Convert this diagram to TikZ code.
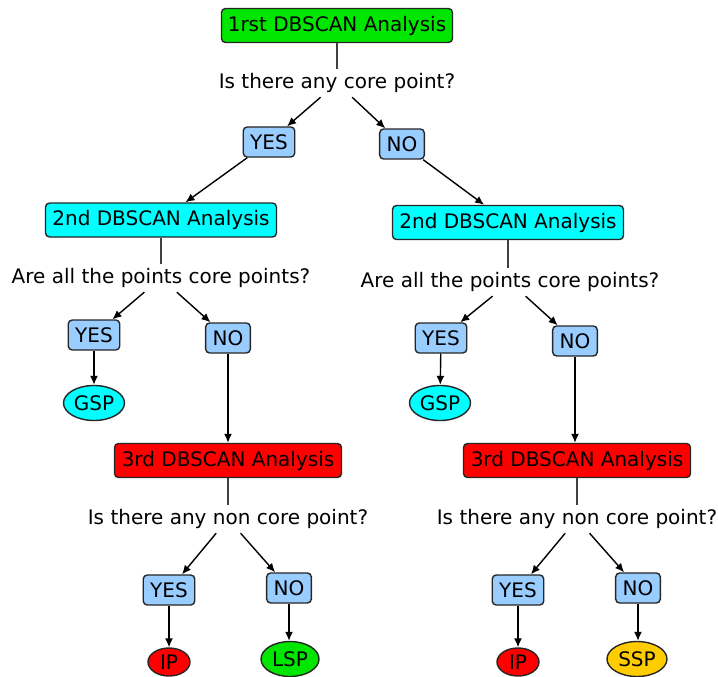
\documentclass[tikz,border=0pt]{standalone}
\usepackage{fontspec}
\setmainfont{DejaVu Sans}
\usetikzlibrary{arrows.meta,shapes.geometric,positioning}
\usepackage{xcolor}
\definecolor{firstgreen}{RGB}{0,230,0}
\definecolor{secondcyan}{RGB}{0,255,255}
\definecolor{thirdred}{RGB}{255,0,0}
\definecolor{ansblue}{RGB}{153,204,255}
\definecolor{ssporange}{RGB}{255,204,0}

\begin{document}
\begin{tikzpicture}[x=1pt,y=-1pt,
    font=\fontsize{20}{23}\selectfont,
    box/.style={draw=black!85,line width=1.4pt,rounded corners=4pt,minimum height=34pt,minimum width=231pt},
    ans/.style={draw=black!85,line width=1.4pt,rounded corners=4pt,fill=ansblue,minimum height=30pt,inner xsep=7pt},
    ques/.style={inner sep=0pt,minimum height=28pt},
    leaf/.style={ellipse,draw=black!85,line width=1.4pt,inner sep=0pt,minimum height=35pt,minimum width=61pt},
    link/.style={line width=1.1pt,black!75},
    arr/.style={line width=1.4pt,-{Latex[length=9pt,width=8pt]}}]
    \useasboundingbox (0,0) rectangle (718,677);

    % first analysis
    \node[box,fill=firstgreen] (first) at (337,25.5) {1rst DBSCAN Analysis};
    \node[ques] (q1) at (337,83) {Is there any core point?};
    \node[ans] (yes1) at (269,142) {YES};
    \node[ans] (no1) at (402,144) {NO};
    \draw[link] (first.south) -- (first.south |- q1.north);
    \draw[arr] (q1) -- (yes1);
    \draw[arr] (q1) -- (no1);

    % left branch
    \node[box,fill=secondcyan] (secL) at (161,220) {2nd DBSCAN Analysis};
    \node[ques] (q2L) at (161,278) {Are all the points core points?};
    \node[ans] (yes2L) at (94,335) {YES};
    \node[ans] (no2L) at (228,338) {NO};
    \node[leaf,fill=secondcyan] (gspL) at (94,403) {GSP};
    \draw[arr] (yes1) -- (secL);
    \draw[link] (secL.south) -- (secL.south |- q2L.north);
    \draw[arr] (q2L) -- (yes2L);
    \draw[arr] (q2L) -- (no2L);
    \draw[arr] (yes2L) -- (gspL);

    \node[box,fill=thirdred,minimum width=227pt] (thirdL) at (228,460.5) {3rd DBSCAN Analysis};
    \node[ques] (q3L) at (228,519) {Is there any non core point?};
    \node[ans] (yes3L) at (169,590) {YES};
    \node[ans] (no3L) at (289,588) {NO};
    \node[leaf,fill=thirdred,minimum width=42pt,minimum height=28pt] (ipL) at (169,662) {IP};
    \node[leaf,fill=firstgreen,minimum width=58pt] (lsp) at (290,659) {LSP};
    \draw[arr] (no2L) -- (thirdL.north -| no2L);
    \draw[link] (thirdL.south) -- (thirdL.south |- q3L.north);
    \draw[arr] (q3L) -- (yes3L);
    \draw[arr] (q3L) -- (no3L);
    \draw[arr] (yes3L) -- (ipL);
    \draw[arr] (no3L) -- (lsp.north -| no3L);

    % right branch
    \node[box,fill=secondcyan] (secR) at (508,222.5) {2nd DBSCAN Analysis};
    \node[ques] (q2R) at (510,282) {Are all the points core points?};
    \node[ans] (yes2R) at (441,338) {YES};
    \node[ans] (no2R) at (575,341) {NO};
    \node[leaf,fill=secondcyan] (gspR) at (440,403) {GSP};
    \draw[arr] (no1) -- (secR);
    \draw[link] (secR.south) -- (secR.south |- q2R.north);
    \draw[arr] (q2R) -- (yes2R);
    \draw[arr] (q2R) -- (no2R);
    \draw[arr] (yes2R) -- (gspR);

    \node[box,fill=thirdred,minimum width=227pt] (thirdR) at (577,460.5) {3rd DBSCAN Analysis};
    \node[ques] (q3R) at (577,519) {Is there any non core point?};
    \node[ans] (yes3R) at (518,590) {YES};
    \node[ans] (no3R) at (638,588) {NO};
    \node[leaf,fill=thirdred,minimum width=42pt,minimum height=28pt] (ipR) at (518,662) {IP};
    \node[leaf,fill=ssporange,minimum width=60pt] (ssp) at (637,659) {SSP};
    \draw[arr] (no2R) -- (thirdR.north -| no2R);
    \draw[link] (thirdR.south) -- (thirdR.south |- q3R.north);
    \draw[arr] (q3R) -- (yes3R);
    \draw[arr] (q3R) -- (no3R);
    \draw[arr] (yes3R) -- (ipR);
    \draw[arr] (no3R) -- (ssp.north -| no3R);
\end{tikzpicture}
\end{document}
